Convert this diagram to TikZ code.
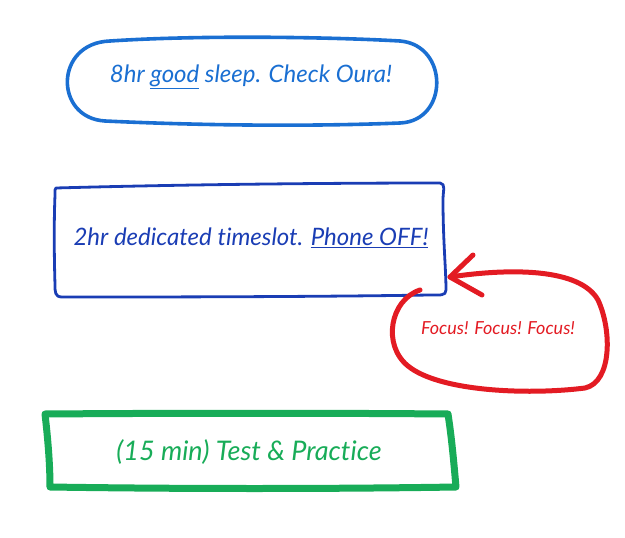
\documentclass[tikz,border=0pt]{standalone}
\usepackage{fontspec}
\setmainfont{Lato}[Ligatures={NoCommon}]
\usetikzlibrary{calc}
\definecolor{sleepblue}{HTML}{1A6FD2}
\definecolor{slotblue}{HTML}{1A3DB4}
\definecolor{focusred}{HTML}{E31B23}
\definecolor{testgreen}{HTML}{18AC58}
\tikzset{
  hand/.style={line cap=round, line join=round},
  lbl/.style={font=\itshape\fontsize{24}{28}\selectfont, inner sep=2pt},
}
\begin{document}
\begin{tikzpicture}[x=1pt,y=-1pt]
\useasboundingbox (0,0) rectangle (625,538);
% sleep box
\draw[hand, sleepblue, line width=3.6pt]
  (110,41) .. controls (200,35) and (330,37) .. (400,41)
  .. controls (449,45) and (449,121) .. (400,123)
  .. controls (300,127) and (190,125) .. (105,121)
  .. controls (54,118) and (54,43) .. (110,41) -- cycle;
\node[lbl, text=sleepblue] (sleep) at (251,77) {8hr \underline{good} sleep. Check Oura!};
% timeslot box
\draw[hand, slotblue, line width=2.8pt]
  (56,188) .. controls (200,184) and (350,183) .. (440,183)
  .. controls (446,184) and (443,190) .. (443,200)
  .. controls (443,240) and (446,270) .. (446,290)
  .. controls (446,296) and (440,295) .. (430,295)
  .. controls (300,297) and (150,297) .. (62,297)
  .. controls (55,297) and (55,292) .. (55,285)
  .. controls (54,250) and (54,220) .. (55,195)
  .. controls (55,190) and (55,188) .. (56,188) -- cycle;
\node[lbl, text=slotblue] (slot) at (251,238) {2hr dedicated timeslot. \underline{Phone OFF!}};
% focus loop
\coordinate (tip) at (450,277);
\draw[hand, focusred, line width=5pt]
  (420,290) .. controls (390,300) and (382,345) .. (408,366)
  .. controls (440,392) and (530,395) .. (585,388)
  .. controls (612,382) and (612,330) .. (598,300)
  .. controls (580,268) and (510,268) .. (tip);
\draw[hand, focusred, line width=5pt] (473,255) -- (tip) -- (482,295);
\node[font=\itshape\fontsize{18}{20}\selectfont, text=focusred] (focus) at (498,328) {Focus! Focus! Focus!};
% test box
\draw[hand, testgreen, line width=7pt]
  (45,414) .. controls (180,413) and (330,413) .. (448,414)
  .. controls (452,440) and (454,465) .. (456,487)
  .. controls (330,489) and (180,489) .. (50,487)
  .. controls (50,465) and (48,440) .. (45,414) -- cycle;
\node[lbl, font=\itshape\fontsize{27}{30}\selectfont, text=testgreen] (test) at (249,452) {(15 min) Test \& Practice};
\end{tikzpicture}
\end{document}
